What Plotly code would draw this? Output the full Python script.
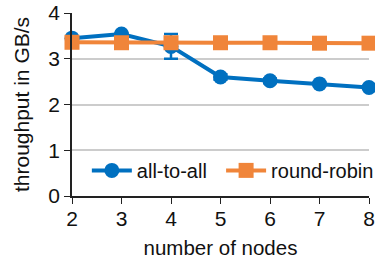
import plotly.graph_objects as go

nodes = [2, 3, 4, 5, 6, 7, 8]
all_to_all = [3.45, 3.54, 3.27, 2.60, 2.52, 2.45, 2.37]
all_to_all_err = [0.02, 0.02, 0.27, 0.06, 0.05, 0.03, 0.02]
round_robin = [3.36, 3.35, 3.35, 3.35, 3.35, 3.34, 3.34]
round_robin_err = [0.01, 0.01, 0.01, 0.01, 0.01, 0.01, 0.01]
y_ticks = [0, 1, 2, 3, 4]

blue = "#0070C0"
orange = "#F0853A"
fam = "Liberation Sans, Arial, sans-serif"

fig = go.Figure()
fig.add_trace(go.Scatter(
    x=nodes, y=all_to_all, name="all-to-all", mode="lines+markers",
    line=dict(color=blue, width=4),
    marker=dict(symbol="circle", size=15, color=blue),
    error_y=dict(type="data", array=all_to_all_err, color=blue, thickness=2.5, width=7),
    cliponaxis=False, legend="legend",
))
fig.add_trace(go.Scatter(
    x=nodes, y=round_robin, name="round-robin", mode="lines+markers",
    line=dict(color=orange, width=4),
    marker=dict(symbol="square", size=15, color=orange),
    error_y=dict(type="data", array=round_robin_err, color=orange, thickness=2, width=6),
    cliponaxis=False, legend="legend2",
))

leg_common = dict(orientation="h", y=0.14, xanchor="left", yanchor="middle",
                  font=dict(size=20, family=fam), bgcolor="rgba(0,0,0,0)",
                  itemwidth=40)
fig.update_layout(
    width=375, height=264,
    margin=dict(l=72, r=6, t=13, b=68, autoexpand=False),
    paper_bgcolor="white", plot_bgcolor="white",
    font=dict(family=fam, size=20, color="#111111"),
    showlegend=True,
    legend=dict(x=0.05, **leg_common),
    legend2=dict(x=0.502, **leg_common),
    xaxis=dict(
        range=[2, 8], tickvals=nodes, showgrid=False, zeroline=False,
        showline=True, linecolor="#222222", linewidth=1.5,
        ticks="outside", ticklen=6, tickcolor="#222222", automargin=False,
        title=dict(text="number of nodes", font=dict(size=20.5), standoff=12),
        tickfont=dict(size=21), ticklabelstandoff=-3, ticklabeloverflow="allow",
    ),
    yaxis=dict(
        range=[0, 4], tickvals=y_ticks, showgrid=True, gridcolor="#cccccc", gridwidth=1.5,
        zeroline=False, showline=True, linecolor="#222222", linewidth=1.5,
        ticks="outside", ticklen=6, tickcolor="#222222", automargin=False,
        title=dict(text="throughput in GB/s", font=dict(size=21), standoff=13),
        tickfont=dict(size=21), ticklabeloverflow="allow",
    ),
)
fig.write_html("out.html", config={"displayModeBar": False},
               post_script="document.body.style.margin='0';")
